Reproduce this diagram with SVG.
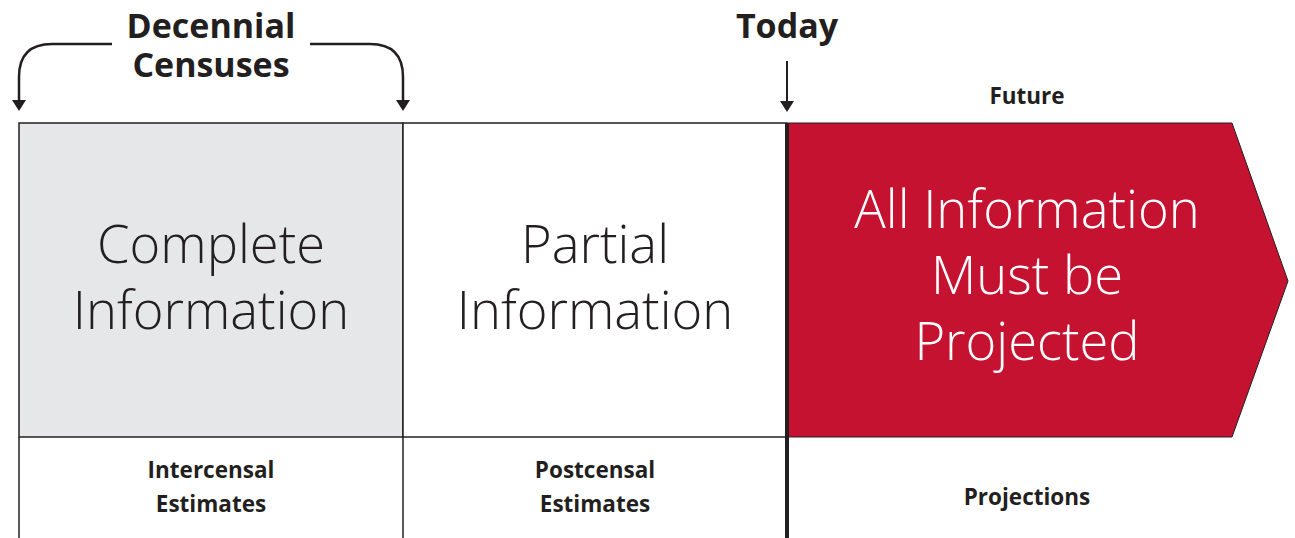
<svg xmlns="http://www.w3.org/2000/svg" width="1295" height="538" viewBox="0 0 1295 538">
<style>
.b{font-family:"Open Sans","Liberation Sans",sans-serif;font-weight:700;fill:#231f20;text-anchor:middle}
.s{font-size:22.5px}
.big{font-family:"Open Sans","Liberation Sans",sans-serif;font-weight:300;font-size:52.5px;fill:#231f20;text-anchor:middle}
.w{fill:#fff}
.ln{stroke:#231f20;fill:none}
.ah{fill:#231f20}
</style>
<rect width="1295" height="538" fill="#fff"/>
<g id="complete">
<rect x="19" y="123" width="384" height="314" fill="#e6e7e9" stroke="#231f20" stroke-width="1.5"/>
<text class="big" x="211" y="263">Complete</text>
<text class="big" x="211" y="329">Information</text>
</g>
<g id="partial">
<rect x="403" y="123" width="384" height="314" fill="#fff" stroke="#231f20" stroke-width="1.5"/>
<text class="big" x="595" y="263">Partial</text>
<text class="big" x="595" y="329">Information</text>
</g>
<g id="projected">
<path d="M788,123 L1232,123 L1288,281 L1232,437 L788,437 Z" fill="#c41230" stroke="#231f20" stroke-width="1"/>
<text class="big w" x="1027" y="228">All Information</text>
<text class="big w" x="1027" y="294">Must be</text>
<text class="big w" x="1027" y="360">Projected</text>
</g>
<g id="labels">
<text class="b" x="211" y="38" font-size="34">Decennial</text>
<text class="b" x="211" y="77" font-size="34">Censuses</text>
<text class="b" x="787" y="38" font-size="34">Today</text>
<text class="b s" x="1027" y="104">Future</text>
<text class="b s" x="211" y="478">Intercensal</text>
<text class="b s" x="211" y="512">Estimates</text>
<text class="b s" x="595" y="478">Postcensal</text>
<text class="b s" x="595" y="512">Estimates</text>
<text class="b s" x="1027" y="505">Projections</text>
</g>
<g id="connectors">
<line class="ln" x1="19" y1="437" x2="19" y2="538" stroke-width="1.5"/>
<line class="ln" x1="403" y1="437" x2="403" y2="538" stroke-width="1.5"/>
<line class="ln" x1="787" y1="123" x2="787" y2="538" stroke-width="4"/>
<path class="ln" d="M112,44 L52,44 Q19,44 19,77 L19,100" stroke-width="2.5"/>
<path class="ah" d="M12,100 L26,100 L19,111 Z"/>
<path class="ln" d="M310,44 L370,44 Q403,44 403,77 L403,100" stroke-width="2.5"/>
<path class="ah" d="M396,100 L410,100 L403,111 Z"/>
<line class="ln" x1="787" y1="61" x2="787" y2="101" stroke-width="2"/>
<path class="ah" d="M780,101 L794,101 L787,112 Z"/>
</g>
</svg>
